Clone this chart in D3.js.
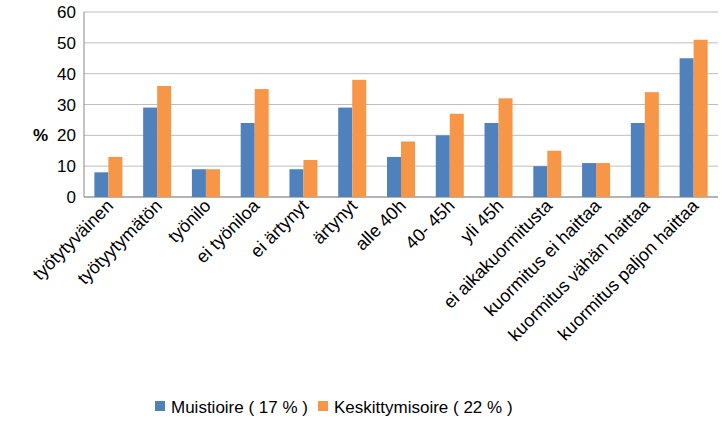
<!DOCTYPE html>
<html><head><meta charset="utf-8">
<script src="https://cdn.jsdelivr.net/npm/d3@7"></script>
<style>body{margin:0;background:#fff}text{font-family:"Liberation Sans",Arial,sans-serif}</style>
</head><body><svg id="c" width="727" height="426"></svg>
<script>
const categories=["työtytyväinen","työtyytymätön","työnilo","ei työniloa","ei ärtynyt","ärtynyt","alle 40h","40- 45h","yli 45h","ei aikakuormitusta","kuormitus ei haittaa","kuormitus vähän haittaa","kuormitus paljon haittaa"];
const muisti=[8,29,9,24,9,29,13,20,24,10,11,24,45];
const keskit=[13,36,9,35,12,38,18,27,32,15,11,34,51];
const seriesNames=["Muistioire  ( 17 % )","Keskittymisoire ( 22 % )"];
const colors=["#4F81BD","#F79646"];
const yTicks=[0,10,20,30,40,50,60];
const svg=d3.select("#c");
const L=84,R=718,T=12,B=197;
const x=d3.scaleBand().domain(categories).range([L,R]);
const y=d3.scaleLinear().domain([0,60]).range([B,T]);
svg.append("g").selectAll("line").data(yTicks).join("line")
 .attr("x1",L).attr("x2",R).attr("y1",d=>y(d)).attr("y2",d=>y(d)).attr("stroke","#bfbfbf");
svg.append("line").attr("x1",L).attr("x2",L).attr("y1",T).attr("y2",B).attr("stroke","#888");
svg.append("line").attr("x1",L).attr("x2",R).attr("y1",B).attr("y2",B).attr("stroke","#888");
svg.append("g").selectAll("text").data(yTicks).join("text")
 .attr("x",L-8).attr("y",d=>y(d)+6).attr("text-anchor","end").attr("font-size",17).text(d=>d);
svg.append("text").attr("x",33).attr("y",141).attr("font-size",17).attr("font-weight","bold").text("%");
const bw=14;
[muisti,keskit].forEach((vals,si)=>{
 svg.append("g").selectAll("rect").data(vals).join("rect")
  .attr("x",(d,i)=>x(categories[i])+x.bandwidth()/2-bw+si*bw)
  .attr("width",bw).attr("y",d=>y(d)).attr("height",d=>B-y(d)).attr("fill",colors[si]);
});
svg.append("g").selectAll("text").data(categories).join("text")
 .attr("transform",d=>`translate(${x(d)+x.bandwidth()/2+6},${B+10}) rotate(-45)`)
 .attr("text-anchor","end").attr("font-size",18).text(d=>d);
const lx=[155,318];
seriesNames.forEach((n,i)=>{
 svg.append("rect").attr("x",lx[i]).attr("y",401).attr("width",10).attr("height",10).attr("fill",colors[i]);
 svg.append("text").attr("x",lx[i]+16).attr("y",413).attr("font-size",17).text(n);
});
</script></body></html>
